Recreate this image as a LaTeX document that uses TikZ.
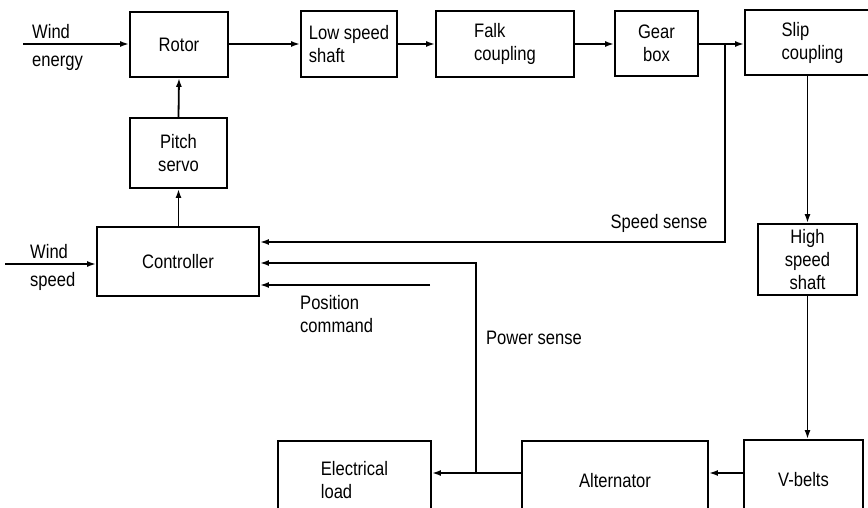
\documentclass[tikz,border=0pt]{standalone}
\usepackage{fontspec}
\setmainfont[FakeStretch=0.85]{Liberation Sans}
\usetikzlibrary{arrows.meta}
\begin{document}
\begin{tikzpicture}[x=1pt,y=-1pt,
  every node/.style={font=\fontsize{19.5}{23}\selectfont},
  blk/.style 2 args={draw,line width=1.8pt,minimum width=#1,minimum height=#2,inner sep=0pt,align=left},
  lbl/.style={inner sep=0pt,align=left},
  arr/.style={line width=1.8pt,-{Latex[length=9pt,width=6pt]}}]
\useasboundingbox (0,0) rectangle (868,508);
\clip (0,0) rectangle (868,508);
% blocks
\node[blk={98pt}{65pt}] (rotor) at (179,44.5) {Rotor};
\node[blk={96pt}{66pt}] (lss) at (349,44) {Low speed\\shaft};
\node[blk={138pt}{66pt}] (falk) at (505,44) {Falk\\coupling};
\node[blk={83pt}{65pt},align=center] (gear) at (656.5,43.5) {Gear\\box};
\node[blk={135pt}{65pt}] (slip) at (812.5,42.5) {Slip\\coupling};
\node[blk={97pt}{70pt},align=center] (pitch) at (178.5,153) {Pitch\\servo};
\node[blk={162pt}{69pt}] (ctrl) at (178,261.5) {Controller};
\node[blk={99pt}{71pt},align=center] (hss) at (807.5,259.5) {High\\speed\\shaft};
\node[blk={119pt}{80pt}] (vbelts) at (803.5,480) {V-belts};
\node[blk={186pt}{79pt}] (alt) at (615,480.5) {Alternator};
\node[blk={153pt}{79pt}] (load) at (354.5,480.5) {Electrical\\load};
% labels
\node[lbl,anchor=west] (windE) at (32,47) {Wind\\[5pt]energy};
\node[lbl,anchor=west] (windS) at (30,267) {Wind\\[5pt]speed};
\node[lbl,anchor=west] (poscmd) at (300,314) {Position\\command};
\node[lbl] (sslbl) at (659,223) {Speed sense};
\node[lbl] (pslbl) at (534,338) {Power sense};
% coordinates
\coordinate (we) at (23,44);
\coordinate (ws) at (5,264);
\coordinate (ssj) at (725,44);
\coordinate (ssc) at (725,242);
\coordinate (psc) at (476,263);
\coordinate (pc) at (430,285);
\coordinate (bl) at (0,473);
\coordinate (psj) at (476,473);
% connectors
\draw[arr] (we) -- (we -| rotor.west);
\draw[arr] (rotor.east |- we) -- (we -| lss.west);
\draw[arr] (lss.east |- we) -- (we -| falk.west);
\draw[arr] (falk.east |- we) -- (we -| gear.west);
\draw[arr] (gear.east |- we) -- (we -| slip.west);
\draw[arr] (pitch.north) -- (rotor.south);
\draw[arr] (ctrl.north -| pitch.south) -- (pitch.south);
\draw[arr] (ws) -- (ws -| ctrl.west);
\draw[arr] (ssj) -- (ssc) -- (ssc -| ctrl.east);
\draw[arr] (slip.south -| hss.north) -- (hss.north);
\draw[arr] (hss.south) -- (hss.south |- vbelts.north);
\draw[arr] (vbelts.west |- bl) -- (alt.east |- bl);
\draw[arr] (alt.west |- bl) -- (load.east |- bl);
\draw[arr] (psj) -- (psc) -- (psc -| ctrl.east);
\draw[arr] (pc) -- (pc -| ctrl.east);
\end{tikzpicture}
\end{document}
